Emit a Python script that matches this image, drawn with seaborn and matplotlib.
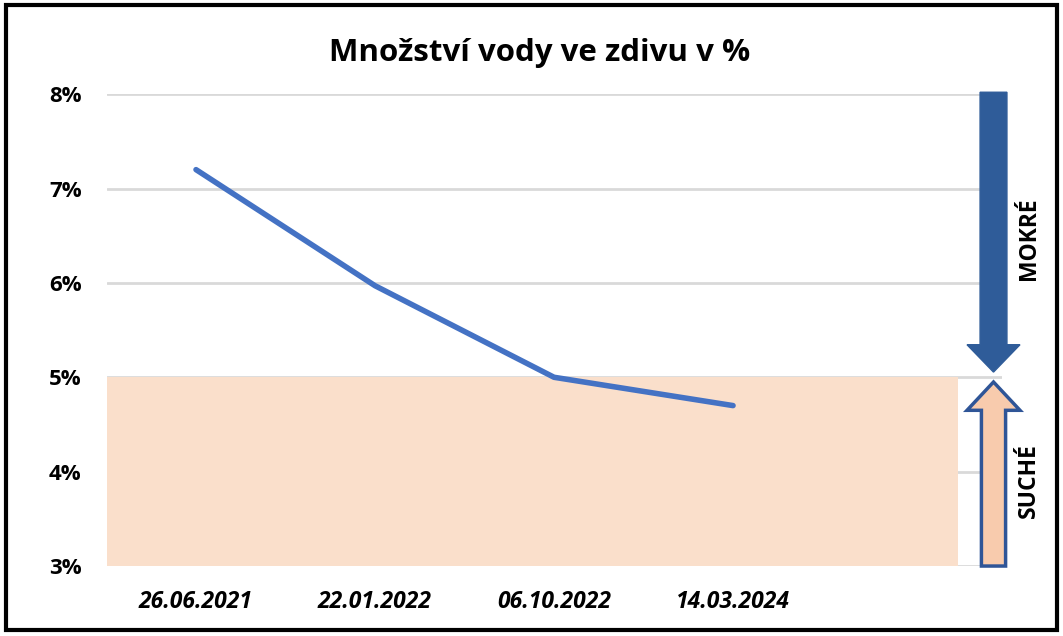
import pandas as pd
import matplotlib.pyplot as plt
import seaborn as sns
from matplotlib.patches import FancyArrow, Rectangle

# data
dates = ['26.06.2021', '22.01.2022', '06.10.2022', '14.03.2024']
water = [7.2, 5.97, 5.0, 4.7]
y_ticks = [3, 4, 5, 6, 7, 8]
dry_limit = 5

df = pd.DataFrame({'Datum': dates, 'Voda': water})

sns.set_theme(style='white')
plt.rcParams['font.family'] = ['Open Sans', 'DejaVu Sans']
plt.rcParams['text.color'] = 'black'
plt.rcParams['xtick.color'] = 'black'
plt.rcParams['ytick.color'] = 'black'

fig = plt.figure(figsize=(10.63, 6.36), dpi=100)
ax = fig.add_axes([0.1002, 0.110, 0.8420, 0.742])

# dry zone shading
ax.fill_between([-0.5, 4.257], 3, dry_limit, color='#FADFCB', zorder=1, linewidth=0)

for t in y_ticks:
    ax.axhline(t, color='#D9D9D9', lw=2, zorder=0.5)

sns.lineplot(data=df, x='Datum', y='Voda', ax=ax, color='#4472C4', lw=4, zorder=3, sort=False)

ax.set_xlim(-0.5, 4.5)
ax.set_ylim(3, 8)
ax.set_xticks(range(len(dates)))
ax.set_xticklabels(dates, fontsize=16.5, fontweight='bold', style='italic')
ax.set_yticks(y_ticks)
ax.set_yticklabels([f'{t}%' for t in y_ticks], fontsize=16, fontweight='bold')
ax.tick_params(axis='x', length=0, pad=17)
ax.tick_params(axis='y', length=0, pad=18)
ax.set_xlabel('')
ax.set_ylabel('')
for s in ax.spines.values():
    s.set_visible(False)

ax.set_title('Množství vody ve zdivu v %', fontsize=22.5, fontweight='bold', pad=24, x=0.484)

# arrows on the right
down = FancyArrow(4.455, 8.02, 0, -2.965, width=0.15, head_width=0.296, head_length=0.29,
                  length_includes_head=True, facecolor='#2F5C99', edgecolor='#2F5C99',
                  lw=1, zorder=5, clip_on=False)
up = FancyArrow(4.455, 3.0, 0, 1.95, width=0.135, head_width=0.296, head_length=0.30,
                length_includes_head=True, facecolor='#F8CBAD', edgecolor='#2F5597',
                lw=2.5, zorder=5, clip_on=False)
ax.add_patch(down)
ax.add_patch(up)
ax.text(4.655, 6.47, 'MOKRÉ', rotation=90, ha='center', va='center', fontsize=16.5,
        fontweight='bold', clip_on=False)
ax.text(4.655, 3.91, 'SUCHÉ', rotation=90, ha='center', va='center', fontsize=16.5,
        fontweight='bold', clip_on=False)

# outer frame
fig.patches.append(Rectangle((0.006, 0.009), 0.988, 0.983, transform=fig.transFigure,
                             fill=False, edgecolor='black', lw=3))

plt.savefig('out.png', dpi=100)
plt.close()
